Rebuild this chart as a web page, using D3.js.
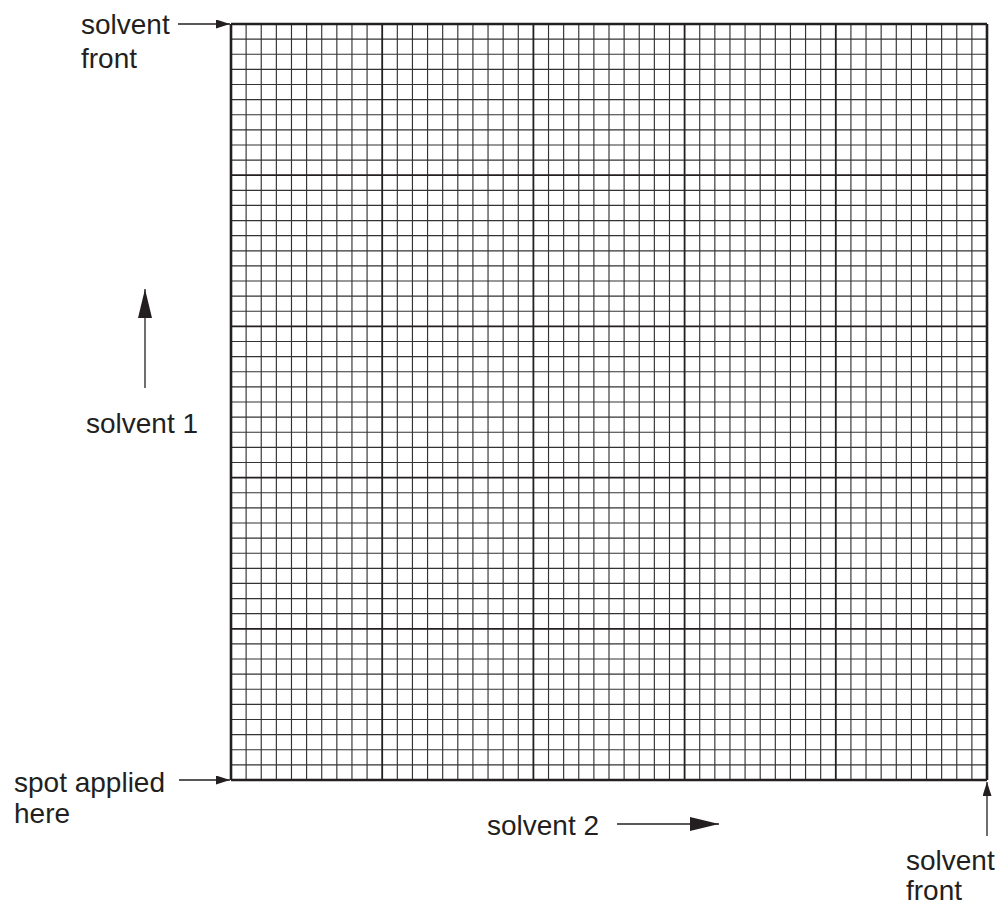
<!DOCTYPE html>
<html>
<head>
<meta charset="utf-8">
<script src="https://cdn.jsdelivr.net/npm/d3@7"></script>
<style>
  body { margin: 0; background: #fff; }
  svg text { font-family: "Liberation Sans", Arial, Helvetica, sans-serif; font-size: 28px; fill: #231f20; }
</style>
</head>
<body>
<div class="chromatogram"></div>
<script>
// grid units: 50 x 50 small squares, heavy line every 10
var gridCells = 50;
var majorEvery = 10;
var minorTicks = d3.range(0, gridCells + 1);
var majorTicks = minorTicks.filter(function(d) { return d % majorEvery === 0; });

var labelSolventFront = ["solvent", "front"];
var labelSpot = ["spot applied", "here"];
var labelSolvent1 = "solvent 1";
var labelSolvent2 = "solvent 2";

var width = 1003, height = 905;
var plot = { left: 231, top: 24, size: 756 };
var ink = "#231f20";

var svg = d3.select(".chromatogram").append("svg")
    .attr("width", width)
    .attr("height", height);

var defs = svg.append("defs");
function marker(id, len, half) {
  defs.append("marker")
      .attr("id", id)
      .attr("viewBox", "0 0 " + len + " " + (half * 2))
      .attr("refX", len)
      .attr("refY", half)
      .attr("markerWidth", len)
      .attr("markerHeight", half * 2)
      .attr("markerUnits", "userSpaceOnUse")
      .attr("orient", "auto")
    .append("path")
      .attr("d", "M0,0L" + len + "," + half + "L0," + (half * 2) + "Z")
      .attr("fill", ink);
}
marker("headSmall", 14, 4.5);
marker("headBig", 29, 7);

var scaleX = d3.scaleLinear().domain([0, gridCells]).range([plot.left, plot.left + plot.size]);
var scaleY = d3.scaleLinear().domain([0, gridCells]).range([plot.top + plot.size, plot.top]);

var grid = svg.append("g").attr("class", "grid");

// minor lines
var minorOnly = minorTicks.filter(function(d) { return d % majorEvery; });
grid.selectAll(".vminor").data(minorOnly)
  .enter().append("line")
    .attr("x1", function(d) { return scaleX(d); })
    .attr("x2", function(d) { return scaleX(d); })
    .attr("y1", scaleY(0)).attr("y2", scaleY(gridCells))
    .attr("stroke", "#333").attr("stroke-width", 1.15);
grid.selectAll(".hminor").data(minorOnly)
  .enter().append("line")
    .attr("y1", function(d) { return scaleY(d); })
    .attr("y2", function(d) { return scaleY(d); })
    .attr("x1", scaleX(0)).attr("x2", scaleX(gridCells))
    .attr("stroke", "#333").attr("stroke-width", 1.15);

// major lines
grid.selectAll(".vmajor").data(majorTicks)
  .enter().append("line")
    .attr("x1", function(d) { return scaleX(d); })
    .attr("x2", function(d) { return scaleX(d); })
    .attr("y1", scaleY(0)).attr("y2", scaleY(gridCells))
    .attr("stroke", ink)
    .attr("stroke-width", function(d) { return d === 0 || d === gridCells ? 2.6 : 1.8; });
grid.selectAll(".hmajor").data(majorTicks)
  .enter().append("line")
    .attr("y1", function(d) { return scaleY(d); })
    .attr("y2", function(d) { return scaleY(d); })
    .attr("x1", scaleX(0)).attr("x2", scaleX(gridCells))
    .attr("stroke", ink)
    .attr("stroke-width", function(d) { return d === 0 || d === gridCells ? 2.6 : 1.8; });

function arrow(x1, y1, x2, y2, head) {
  svg.append("line")
      .attr("x1", x1).attr("y1", y1)
      .attr("x2", x2).attr("y2", y2)
      .attr("stroke", ink).attr("stroke-width", 1.3)
      .attr("marker-end", "url(#" + head + ")");
}

// solvent front (top)
arrow(178, scaleY(gridCells), scaleX(0) - 1, scaleY(gridCells), "headSmall");
svg.selectAll(".sf").data(labelSolventFront).enter().append("text")
    .attr("x", 81).attr("y", function(d, i) { return 34 + i * 34; })
    .text(function(d) { return d; });

// spot applied
arrow(179, scaleY(0), scaleX(0) - 1, scaleY(0), "headSmall");
svg.selectAll(".sp").data(labelSpot).enter().append("text")
    .attr("x", 14).attr("y", function(d, i) { return 792 + i * 31; })
    .text(function(d) { return d; });

// solvent 1
arrow(145, 388, 145, 289, "headBig");
svg.append("text").attr("x", 86).attr("y", 433).text(labelSolvent1);

// solvent 2
arrow(617, 824, 719, 824, "headBig");
svg.append("text").attr("x", 487).attr("y", 835).text(labelSolvent2);

// solvent front (right)
arrow(scaleX(gridCells), 836, scaleX(gridCells), scaleY(0) + 2, "headSmall");
svg.selectAll(".sf2").data(labelSolventFront).enter().append("text")
    .attr("x", 906).attr("y", function(d, i) { return 870 + i * 30; })
    .text(function(d) { return d; });
</script>
</body>
</html>
